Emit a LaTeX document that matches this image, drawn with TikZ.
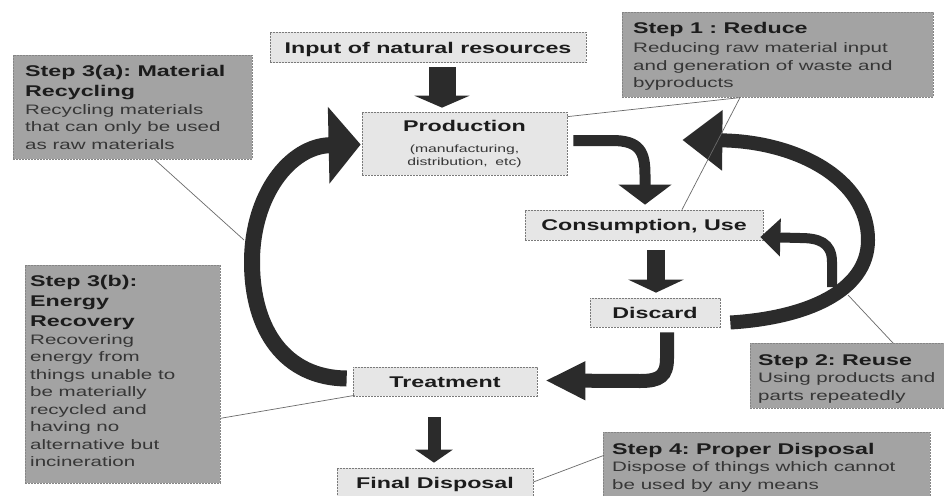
\documentclass[tikz,border=0pt]{standalone}
\usepackage{fontspec}
\setmainfont{Liberation Sans}[FakeStretch=1.5]
\usetikzlibrary{arrows.meta,calc}
\frenchspacing
\definecolor{nodefill}{HTML}{E6E6E6}
\definecolor{nodeline}{HTML}{7A7A7A}
\definecolor{callfill}{HTML}{A3A3A3}
\definecolor{callline}{HTML}{858585}
\definecolor{arrowc}{HTML}{2B2B2B}
\definecolor{linkc}{HTML}{6A6A6A}
\definecolor{headc}{HTML}{1C1C1C}
\definecolor{bodyc}{HTML}{363636}
\newcommand\hdf{\fontsize{15.5}{20}\selectfont\bfseries}
\newcommand\bdf{\fontsize{13.7}{17.5}\selectfont}
\newcommand\natsp{\frenchspacing\spaceskip=0pt\xspaceskip=0pt\relax}
\begin{document}
\begin{tikzpicture}[x=1pt,y=-1pt,
  mainbox/.style={draw=nodeline, dash pattern=on 2pt off 1pt, line width=0.7pt, fill=nodefill, inner sep=0pt, font=\hdf\frenchspacing, text=headc},
  oneline/.style={text height=11pt, text depth=0pt},
  callbox/.style={draw=callline, dash pattern=on 2pt off 1pt, line width=0.6pt, fill=callfill, inner sep=0pt, anchor=north west},
  calltext/.style={anchor=north west, inner sep=0pt, text width=330pt, align=left},
  fatarrow/.style={draw=arrowc, line width=#1},
  link/.style={draw=linkc, line width=0.7pt}]
\path[use as bounding box] (0,0) rectangle (944,495);
\clip (0,0) rectangle (944,495);
\fill[white] (0,0) rectangle (944,495);

% callout boxes
\node[callbox, minimum width=239pt, minimum height=104pt] (s3a) at (13,55) {};
\node[callbox, minimum width=311pt, minimum height=85pt] (s1) at (622,12) {};
\node[callbox, minimum width=195pt, minimum height=218pt] (s3b) at (25,265) {};
\node[callbox, minimum width=196pt, minimum height=65pt] (s2) at (750,343) {};
\node[callbox, minimum width=327pt, minimum height=70pt] (s4) at (603,432) {};

\node[calltext] (s3atx) at (25,65.5) {\natsp{\hdf\color{headc}Step 3(a): Material\\Recycling\par}{\bdf\color{bodyc}Recycling materials\\that can only be used\\as raw materials\par}};
\node[calltext] (s1tx) at (633,22) {\natsp{\hdf\color{headc}Step 1 : Reduce\par}\vspace{2pt}{\bdf\color{bodyc}Reducing raw material input\\and generation of waste and\\byproducts\par}};
\node[calltext] (s3btx) at (30,275.5) {\natsp{\hdf\color{headc}Step 3(b):\\Energy\\Recovery\par}{\bdf\color{bodyc}Recovering\\energy from\\things unable to\\be materially\\recycled and\\having no\\alternative but\\incineration\par}};
\node[calltext] (s2tx) at (758,354) {\natsp{\hdf\color{headc}Step 2: Reuse\par}{\bdf\color{bodyc}Using products and\\parts repeatedly\par}};
\node[calltext] (s4tx) at (612,443) {\natsp{\hdf\color{headc}Step 4: Proper Disposal\par}{\bdf\color{bodyc}Dispose of things which cannot\\be used by any means\par}};

% main nodes
\node[mainbox, oneline, minimum width=316pt, minimum height=30pt] (inp) at (428,47.5) {Input of natural resources};
\node[mainbox, text width=205pt, align=center, minimum height=63pt] (prod) at (464.5,143.5) {\natsp{\hdf Production\par}\vspace{9pt}{\fontsize{10.5}{12.5}\selectfont\mdseries\color{bodyc}(manufacturing,\\distribution, etc)\par}};
\node[mainbox, oneline, minimum width=238pt, minimum height=30pt] (cons) at (644,225) {Consumption, Use};
\node[mainbox, oneline, minimum width=130pt, minimum height=29pt] (disc) at (655,312.5) {Discard};
\node[mainbox, oneline, minimum width=184pt, minimum height=29pt] (treat) at (445,381.5) {Treatment};
\node[mainbox, oneline, minimum width=196pt, minimum height=30pt] (fin) at (435,483) {Final Disposal};

% straight block arrows
\draw[fatarrow=27pt, -{Triangle[length=12pt,width=55pt]}] ($(inp.south)+(14,4.5)$) -- ($(inp.south |- prod.north)+(14,-4)$);
\draw[fatarrow=18pt, -{Triangle[length=13pt,width=55pt]}] ($(cons.south)+(12,10)$) -- ($(cons.south |- disc.north)+(12,-5)$);
\draw[fatarrow=13pt, -{Triangle[length=13pt,width=37pt]}] ($(treat.south)+(-11,21)$) -- ($(treat.south |- fin.north)+(-11,-5)$);

% curved arrows
\draw[fatarrow=11pt, -{Triangle[length=20pt,width=52pt]}] ($(prod.east)+(6,-3)$) -- (612,140.5) .. controls (640,140.5) and (645,152) .. (645,175) -- ($(cons.north)+(1,-5)$);
\draw[fatarrow=14pt, -{Triangle[length=40pt,width=36pt]}] ($(disc.south)+(12,5)$) -- (667,358) .. controls (667,376) and (660,381) .. (640,381) -- ($(treat.east)+(8,-1)$);
\draw[fatarrow=16pt, -{Triangle[length=32pt,width=75pt]}] ($(treat.west)+(-6,-3)$) .. controls (285,378) and (252,330) .. (252,262) .. controls (252,195) and (290,146) .. ($(prod.west)+(-1,1)$);
\coordinate (rtip) at ($(prod.east)+(115,-3.5)$);
\draw[fatarrow=14pt, -{Triangle[length=40pt,width=58pt]}] ($(disc.east)+(10,10)$) .. controls (805,318) and (868,292) .. (868,240) .. controls (868,178) and (795,141) .. (rtip);
\coordinate (reuse0) at (832,287);
\draw[fatarrow=10pt, -{Triangle[length=20pt,width=37pt]}] (reuse0) -- (832,262) .. controls (832,242) and (818,238) .. (800,238) -- ($(cons.east)+(-3,12)$);

% connector lines
\coordinate (larc) at (244,240);
\coordinate (s1pt) at ($(s1.south west)+(118,0)$);
\coordinate (rarc) at (848,295);
\draw[link] ($(s3a.south)+(22,0)$) -- (larc);
\draw[link] ($(prod.north east)+(0,5)$) -- (s1pt);
\draw[link] (s1pt) -- ($(cons.north)+(38,0)$);
\draw[link] ($(s3b.east)+(0,44)$) -- ($(treat.south west)+(2,-1)$);
\draw[link] ($(s2.north west)+(143,0)$) -- (rarc);
\draw[link] ($(s4.west)+(1,-12)$) -- ($(fin.east)+(0,-1)$);
\end{tikzpicture}
\end{document}
